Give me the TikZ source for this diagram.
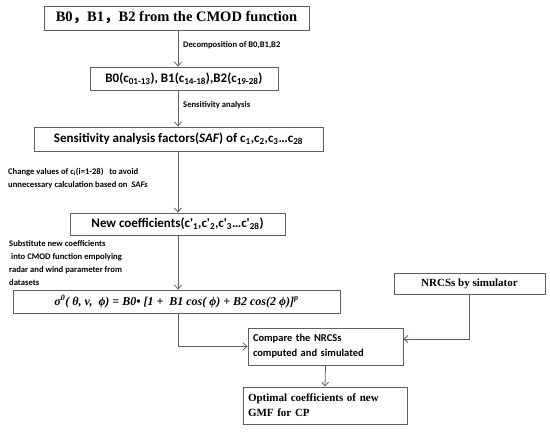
\documentclass[tikz,border=0pt]{standalone}
\usepackage{fontspec}
\setmainfont{Liberation Serif}
\newfontfamily\carl{Carlito}
\newfontfamily\cjkf{Noto Sans CJK SC}
\usetikzlibrary{arrows.meta}
\definecolor{ln}{HTML}{606060}
\tikzset{
  box/.style={draw=ln, line width=0.8pt, inner sep=0pt, align=center},
  arr/.style={draw=ln, line width=0.8pt, -{Straight Barb[length=4pt,width=7pt]}},
  lbl/.style={inner sep=0pt, anchor=west, align=left, font=\carl\bfseries\fontsize{8.6}{12.7}\selectfont},
}
\begin{document}
\begin{tikzpicture}[x=1pt,y=-1pt]
\useasboundingbox (0,0) rectangle (550,433);
\coordinate (m) at (178,0);
\node[box, minimum width=265pt, minimum height=24pt, font=\bfseries\fontsize{14.5}{16}\selectfont] (b1) at (176.5,18) {B0{\cjkf ，}B1{\cjkf ，}B2 from the CMOD function};
\node[box, minimum width=188pt, minimum height=23pt, font=\carl\bfseries\fontsize{13}{15}\selectfont] (b2) at (184,78.5) {B0(c\textsubscript{01-13}), B1(c\textsubscript{14-18}),B2(c\textsubscript{19-28})};
\node[box, minimum width=289pt, minimum height=24pt, font=\carl\bfseries\fontsize{13}{15}\selectfont] (b3) at (178.5,139) {Sensitivity analysis factors(\textit{SAF}) of c\textsubscript{1},c\textsubscript{2},c\textsubscript{3}\dots c\textsubscript{28}};
\node[box, minimum width=215pt, minimum height=22pt, font=\carl\bfseries\fontsize{13}{15}\selectfont] (b4) at (177.5,224) {New coefficients(c'\textsubscript{1},c'\textsubscript{2},c'\textsubscript{3}\dots c'\textsubscript{28})};
\node[box, minimum width=327pt, minimum height=23pt, font=\bfseries\itshape\fontsize{12}{14}\selectfont] (b5) at (176.5,301.5) {σ\textsuperscript{0}( θ, v,\ \ ϕ) = B0• [1 +\ \ B1 cos( ϕ) + B2 cos(2 ϕ)]\textsuperscript{p}};
\node[box, minimum width=151pt, minimum height=21pt, font=\bfseries\fontsize{11}{13}\selectfont] (nr) at (469.5,283.5) {NRCSs by simulator};
\node[box, minimum width=155pt, minimum height=37pt, align=left, text width=145pt, inner xsep=5pt, font=\carl\bfseries\fontsize{10.5}{15}\selectfont] (cmp) at (325.5,346.5) {Compare the NRCSs\\computed and simulated};
\node[box, minimum width=164pt, minimum height=37pt, align=left, text width=154pt, inner xsep=5pt, font=\bfseries\fontsize{11}{15}\selectfont] (opt) at (325,405.5) {Optimal coefficients of new\\GMF for CP};
\draw[arr] (b1.south -| m) -- (b2.north -| m);
\draw[arr] (b2.south -| m) -- (b3.north -| m);
\draw[arr] (b3.south -| m) -- (b4.north -| m);
\draw[arr] (b4.south -| m) -- (b5.north -| m);
\draw[arr] (b5.south -| m) |- (cmp.west);
\draw[arr] (nr.south) |- ([yshift=7.5pt]cmp.east);
\draw[arr] (cmp.south) -- (opt.north);
\node[lbl] (l1) at (183,45) {Decomposition of B0,B1,B2};
\node[lbl] (l2) at (183,105) {Sensitivity analysis};
\node[lbl] (l3) at (8,178.5) {Change values of c\textsubscript{i}(i=1-28)\ \ \ to avoid\\unnecessary calculation based on\ \ \textit{SAFs}};
\node[lbl] (l4) at (9,263) {Substitute new coefficients\\\ into CMOD function empolying\\radar and wind parameter from\\datasets};
\end{tikzpicture}
\end{document}
